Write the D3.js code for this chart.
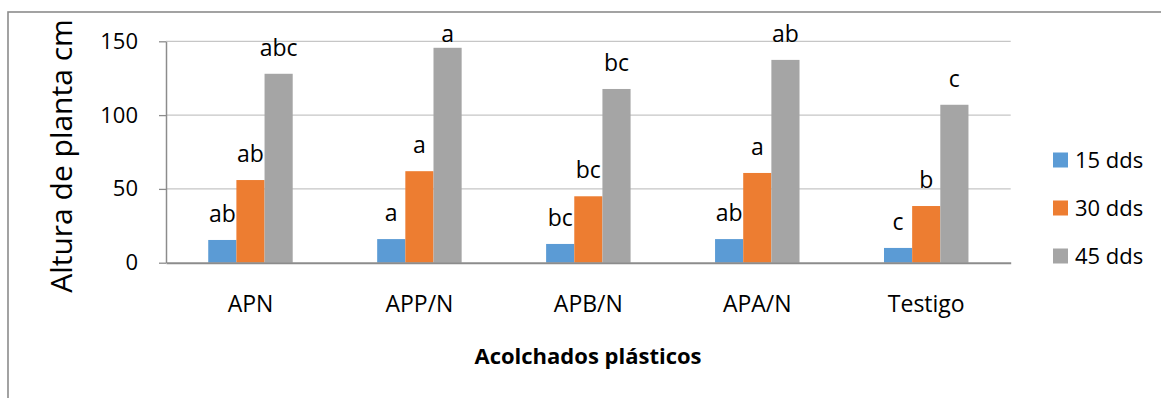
<!DOCTYPE html>
<html><head><meta charset="utf-8">
<script src="https://cdn.jsdelivr.net/npm/d3@7"></script>
<style>body{margin:0;background:#fff}svg{display:block}text{font-family:"Open Sans",sans-serif;fill:#000}</style>
</head><body>
<svg id="c" width="1161" height="398"></svg>
<script>
const categories = ["APN", "APP/N", "APB/N", "APA/N", "Testigo"];
const seriesNames = ["15 dds", "30 dds", "45 dds"];
const s15 = [15.4, 16, 12.7, 16, 10];
const s30 = [56, 62, 45, 60.8, 38.4];
const s45 = [128, 145.6, 117.7, 137.4, 107];
const lab15 = ["ab", "a", "bc", "ab", "c"];
const lab30 = ["ab", "a", "bc", "a", "b"];
const lab45 = ["abc", "a", "bc", "ab", "c"];
const yTicks = [0, 50, 100, 150];
const colors = ["#5B9BD5", "#ED7D31", "#A5A5A5"];
const values = [s15, s30, s45];
const labels = [lab15, lab30, lab45];

const svg = d3.select("#c");
const L = 166, R = 1010.7, T = 41.3, B = 262.7;

// outer border
svg.append("rect").attr("x", 8).attr("y", 12).attr("width", 1200).attr("height", 500)
  .attr("fill", "none").attr("stroke", "#8c8c8c").attr("stroke-width", 1.6);

const x = d3.scaleBand().domain(categories).range([L, R]).padding(0);
const y = d3.scaleLinear().domain([0, 150]).range([B, T]);
const bw = x.bandwidth() * 0.5 / 3;
const x1 = d3.scaleBand().domain(d3.range(3)).range([0, bw * 3]);

// gridlines
svg.append("g").selectAll("line").data(yTicks.filter(d => d > 0)).join("line")
  .attr("x1", L).attr("x2", R).attr("y1", d => y(d)).attr("y2", d => y(d))
  .attr("stroke", "#c6c6c6").attr("stroke-width", 1.3);

// y axis
const ya = svg.append("g").attr("transform", `translate(${L},0)`)
  .call(d3.axisLeft(y).tickValues(yTicks).tickSize(7).tickPadding(21).tickSizeOuter(0));
ya.select(".domain").attr("stroke", "#8c8c8c").attr("stroke-width", 1.5);
ya.selectAll(".tick line").attr("stroke", "#8c8c8c").attr("stroke-width", 1.3);
ya.selectAll(".tick text").attr("font-size", 22).attr("font-family", "Open Sans").attr("fill", "#000");

// bars
values.forEach((vals, si) => {
  const g = svg.append("g");
  g.selectAll("rect").data(vals).join("rect")
    .attr("x", (d, i) => x(categories[i]) + x.bandwidth() / 2 - bw * 1.5 + x1(si))
    .attr("width", x1.bandwidth())
    .attr("y", d => y(d)).attr("height", d => y(0) - y(d))
    .attr("fill", colors[si]);
  g.selectAll("text").data(vals).join("text")
    .attr("x", (d, i) => x(categories[i]) + x.bandwidth() / 2 - bw * 1.5 + x1(si) + x1.bandwidth() / 2)
    .attr("y", d => Math.max(y(d) - 18, 42))
    .attr("text-anchor", "middle").attr("font-size", 23)
    .text((d, i) => labels[si][i]);
});

// x axis line
const xa = svg.append("g").attr("transform", `translate(0,${B})`)
  .call(d3.axisBottom(x).tickSize(0).tickPadding(33));
xa.select(".domain").attr("stroke", "#8c8c8c").attr("stroke-width", 2);
xa.selectAll(".tick text").attr("font-size", 23).attr("font-family", "Open Sans").attr("fill", "#000");

// axis titles
svg.append("text").attr("transform", "translate(72,156) rotate(-90)")
  .attr("text-anchor", "middle").attr("font-size", 30).text("Altura de planta cm");
svg.append("text").attr("x", 588).attr("y", 364)
  .attr("text-anchor", "middle").attr("font-size", 22).attr("font-weight", "bold").text("Acolchados plásticos");

// legend
const lg = svg.append("g");
seriesNames.forEach((n, i) => {
  const cy = 160 + i * 48;
  lg.append("rect").attr("x", 1053).attr("y", cy - 7.5).attr("width", 15).attr("height", 15).attr("fill", colors[i]);
  lg.append("text").attr("x", 1075).attr("y", cy).attr("dy", "0.36em").attr("font-size", 22).text(n);
});
</script>
</body></html>
